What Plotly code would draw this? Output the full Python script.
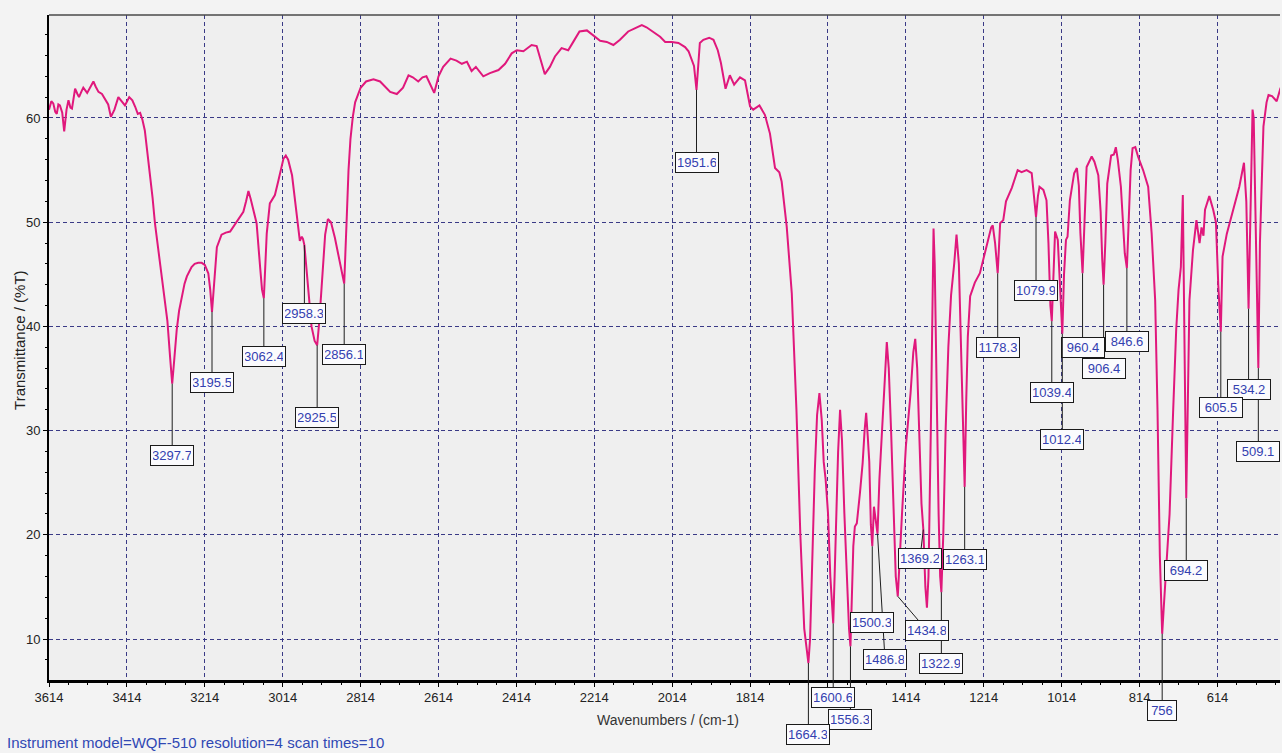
import plotly.graph_objects as go

# ---- IR spectrum (wavenumber in cm-1, transmittance in %T) ----
wavenumber = [
    3614, 3608, 3603, 3598, 3594, 3590, 3586, 3580, 3575, 3569, 3564, 3559, 3555, 3547, 3541, 3537,
    3530, 3526, 3516, 3508, 3500, 3494, 3487, 3478, 3470, 3462, 3455, 3446, 3436, 3428, 3419, 3408,
    3400, 3393, 3386, 3380, 3374, 3368, 3362, 3355, 3348, 3342, 3332, 3321, 3310, 3303, 3297.7, 3292,
    3286, 3280, 3273, 3266, 3260, 3248, 3240, 3231, 3222, 3214, 3205, 3200, 3195.5, 3190, 3183, 3171,
    3160, 3149, 3140, 3132, 3115, 3108, 3102, 3096, 3091, 3081, 3072, 3067, 3062.4, 3058, 3055, 3047,
    3040, 3034, 3025, 3018, 3012, 3006, 3000, 2990, 2980, 2970, 2965, 2962, 2958.3, 2950, 2940, 2932,
    2925.5, 2920, 2912, 2905, 2898, 2890, 2880, 2870, 2862, 2856.1, 2850, 2845, 2840, 2834, 2828, 2820,
    2814, 2800, 2781, 2764, 2750, 2738, 2721, 2705, 2691, 2680, 2666, 2655, 2645, 2636, 2625, 2614,
    2602, 2583, 2568, 2554, 2541, 2529, 2518, 2499, 2482, 2460, 2443, 2426, 2413, 2396, 2375, 2362,
    2355, 2341, 2328, 2315, 2298, 2281, 2268, 2252, 2233, 2216, 2199, 2182, 2165, 2148, 2127, 2110,
    2092, 2080, 2063, 2045, 2032, 2015, 1998, 1981, 1972, 1964, 1958, 1951.6, 1947, 1943, 1934, 1919,
    1908, 1897, 1889, 1877, 1866, 1855, 1840, 1827, 1814, 1806, 1790, 1776, 1763, 1750, 1739, 1733,
    1720, 1707, 1695, 1685, 1675, 1668, 1664.3, 1660, 1655, 1648, 1642, 1636, 1630, 1625, 1620, 1614,
    1608, 1603, 1600.6, 1597, 1593, 1588, 1583, 1578, 1572, 1566, 1560, 1556.3, 1553, 1549, 1545, 1540,
    1532, 1525, 1520, 1516, 1512, 1508, 1504, 1500.3, 1496, 1490, 1486.8, 1482, 1474, 1468, 1463, 1458,
    1452, 1446, 1440, 1434.8, 1430, 1424, 1414, 1402, 1395, 1390, 1385, 1380, 1374, 1369.2, 1364, 1360,
    1356, 1350, 1346, 1343, 1340, 1336, 1330, 1326, 1322.9, 1318, 1312, 1305, 1298, 1290, 1284, 1278,
    1272, 1266, 1263.1, 1259, 1255, 1249, 1237, 1224, 1211, 1195, 1191, 1185, 1178.3, 1172, 1164, 1157,
    1142, 1127, 1117, 1104, 1091, 1085, 1079.9, 1075, 1071, 1061, 1053, 1048, 1043, 1039.4, 1035, 1031,
    1024, 1019, 1015, 1012.4, 1008, 1003, 999, 993, 982, 975, 970, 966, 960.4, 956, 950, 937,
    930, 920, 914, 910, 906.4, 902, 897, 887, 880, 875, 870, 862, 852, 846.6, 842, 837,
    832, 825, 818, 805, 792, 783, 774, 768, 762, 758, 756, 752, 745, 737, 728, 720,
    714, 708, 703, 699, 694.2, 690, 686, 677, 668, 660, 655, 650, 646, 635, 625, 618,
    612, 605.5, 601, 590, 573, 558, 546, 540, 534.2, 530, 526, 524, 521, 517, 512, 509.1,
    505, 500, 496, 488, 483, 474, 462, 452,
]

transmittance = [
    60.8, 61.6, 61.4, 60.6, 60.4, 61.3, 61.2, 60.5, 58.7, 60.8, 61.7, 61.0, 60.9, 62.8, 62.3, 62.0,
    62.6, 62.9, 62.4, 63.0, 63.5, 63.0, 62.5, 62.3, 61.8, 61.3, 60.1, 60.8, 62.0, 61.6, 61.2, 62.0,
    61.7, 61.1, 60.4, 60.5, 59.8, 58.8, 57.0, 54.7, 52.3, 49.9, 47.0, 44.2, 40.5, 37.0, 34.5, 37.0,
    39.7, 41.5, 42.9, 44.1, 44.8, 45.7, 46.0, 46.1, 46.1, 45.9, 45.1, 43.5, 41.4, 44.5, 47.6, 48.8,
    49.0, 49.1, 49.6, 50.0, 51.0, 52.0, 53.0, 52.2, 51.5, 49.9, 45.7, 43.5, 42.7, 46.5, 48.9, 51.8,
    52.3, 52.6, 54.0, 55.2, 56.1, 56.4, 56.0, 54.5, 51.5, 48.2, 48.6, 48.4, 47.8, 44.0, 40.0, 38.6,
    38.2, 40.5, 45.5, 48.8, 50.3, 50.0, 48.5, 46.5, 45.0, 44.1, 50.0, 55.0, 58.0, 60.1, 61.5, 62.3,
    62.9, 63.5, 63.7, 63.5, 63.0, 62.5, 62.3, 62.9, 64.1, 63.9, 63.5, 63.9, 64.0, 63.3, 62.4, 64.0,
    64.9, 65.7, 65.5, 65.2, 65.4, 64.5, 64.9, 64.0, 64.3, 64.6, 65.2, 66.2, 66.5, 66.4, 67.0, 66.9,
    66.0, 64.2, 64.9, 65.9, 66.7, 66.5, 67.3, 68.3, 68.4, 67.9, 67.4, 67.3, 67.0, 67.5, 68.3, 68.6,
    68.9, 68.7, 68.3, 67.8, 67.3, 67.3, 67.2, 66.8, 66.4, 65.6, 65.0, 62.7, 65.0, 67.2, 67.5, 67.7,
    67.5, 66.5, 65.3, 62.8, 64.1, 63.2, 63.9, 63.6, 61.1, 60.8, 61.2, 60.3, 58.5, 55.2, 54.8, 53.9,
    49.6, 43.2, 32.0, 20.0, 11.0, 8.5, 7.7, 10.0, 17.0, 26.0, 31.5, 33.6, 31.0, 27.0, 25.3, 22.1,
    16.0, 12.5, 11.5, 16.0, 22.0, 28.0, 32.0, 29.0, 22.1, 16.0, 11.0, 9.3, 14.0, 18.9, 20.8, 21.1,
    24.0, 26.9, 30.0, 31.7, 29.5, 27.0, 21.0, 18.9, 22.7, 21.0, 20.1, 25.3, 31.7, 35.0, 38.5, 36.0,
    30.0, 22.0, 16.0, 14.1, 18.0, 22.0, 28.5, 33.6, 37.5, 38.8, 36.0, 30.0, 23.0, 20.5, 15.0, 13.0,
    16.0, 30.0, 42.0, 49.4, 46.0, 35.0, 22.0, 16.0, 14.5, 20.0, 30.0, 38.0, 43.0, 46.0, 48.8, 46.0,
    38.0, 28.0, 24.6, 33.0, 39.0, 42.9, 44.2, 45.1, 47.0, 49.5, 49.7, 48.0, 45.1, 49.9, 50.2, 52.0,
    53.3, 55.0, 54.8, 55.0, 54.7, 52.5, 50.5, 52.5, 53.4, 53.1, 52.1, 48.0, 42.0, 40.5, 45.0, 49.1,
    48.3, 44.0, 40.0, 39.3, 45.0, 48.3, 48.6, 52.1, 54.7, 55.2, 53.5, 49.0, 45.1, 50.0, 55.3, 56.3,
    55.8, 54.5, 51.0, 46.5, 44.0, 48.0, 53.7, 56.4, 56.5, 57.2, 56.0, 53.4, 47.0, 45.6, 50.0, 55.0,
    57.1, 57.2, 56.3, 55.0, 53.4, 48.9, 42.5, 32.0, 18.0, 12.0, 10.5, 13.0, 17.0, 22.0, 31.7, 39.7,
    43.5, 45.7, 52.6, 38.0, 23.5, 33.0, 42.5, 47.3, 50.2, 48.0, 49.5, 48.7, 51.2, 52.5, 51.2, 50.0,
    44.0, 39.5, 46.7, 48.9, 51.2, 53.4, 55.7, 52.0, 41.7, 50.0, 58.0, 60.8, 60.0, 52.0, 40.0, 36.0,
    48.0, 55.3, 59.2, 61.5, 62.2, 62.1, 61.6, 62.9,
]

# ---- labelled absorption bands ----
peak_labels = [
    "3297.7", "3195.5", "3062.4", "2958.3", "2925.5", "2856.1", "1951.6", "1664.3", "1600.6",
    "1556.3", "1500.3", "1486.8", "1434.8", "1369.2", "1322.9", "1263.1", "1178.3", "1079.9",
    "1039.4", "1012.4", "960.4", "906.4", "846.6", "756", "694.2", "605.5", "534.2", "509.1",
]

# label box centres (x in cm-1, y in %T)
label_box = {
    "3297.7": (3297.7, 27.66), "3195.5": (3195.5, 34.57), "3062.4": (3062.4, 37.11),
    "2958.3": (2958.3, 41.19), "2925.5": (2925.5, 31.26), "2856.1": (2856.1, 37.30),
    "1951.6": (1951.6, 55.73), "1664.3": (1664.3, 0.83), "1600.6": (1600.6, 4.43),
    "1556.3": (1556.3, 2.32), "1500.3": (1500.3, 11.63), "1486.8": (1467.7, 8.08),
    "1434.8": (1360.6, 10.86), "1369.2": (1377.8, 17.77), "1322.9": (1322.9, 7.70),
    "1263.1": (1263.1, 17.68), "1178.3": (1178.3, 37.93), "1079.9": (1079.9, 43.49),
    "1039.4": (1039.4, 33.61), "1012.4": (1012.4, 29.15), "960.4": (960.4, 38.02),
    "906.4": (906.4, 35.96), "846.6": (846.6, 38.55), "756": (756.0, 3.14),
    "694.2": (694.2, 16.57), "605.5": (605.5, 32.22), "534.2": (534.2, 33.90),
    "509.1": (509.1, 28.00),
}

x_ticks = [3614, 3414, 3214, 3014, 2814, 2614, 2414, 2214, 2014, 1814, 1614, 1414, 1214, 1014, 814, 614]
# the 1614 label sits under the 1600.6 band box, so it is left blank
x_tick_text = ["" if v == 1614 else str(v) for v in x_ticks]
y_ticks = [10, 20, 30, 40, 50, 60]

X_RANGE = [3614, 453.5]
Y_RANGE = [6.07, 69.88]

LINE_COLOR = "#e0187c"
GRID_COLOR = "#3a3a86"
LABEL_BLUE = "#3340b0"
FONT = "Liberation Sans Narrow, Arial Narrow, Arial, sans-serif"

fig = go.Figure()
fig.add_trace(go.Scatter(
    x=wavenumber, y=transmittance, mode="lines",
    line=dict(color=LINE_COLOR, width=2), hoverinfo="skip", showlegend=False,
))

# band labels with leader lines, drawn from low to high wavenumber
lookup = dict(zip(wavenumber, transmittance))
annotations = []
for lab in sorted(peak_labels, key=float):
    wn = float(lab)
    bx, by = label_box[lab]
    annotations.append(dict(
        x=wn, y=lookup[wn], xref="x", yref="y",
        ax=bx, ay=by, axref="x", ayref="y",
        text=lab, showarrow=True, arrowhead=0, arrowwidth=1, arrowcolor="#1e1e1e",
        standoff=0, startstandoff=0,
        font=dict(family=FONT, size=13, color=LABEL_BLUE),
        bgcolor="#fbfbfd", bordercolor="#1a1a1a", borderwidth=1, borderpad=2,
        width=38 if len(lab) > 3 else 24, height=15,
    ))

# axis titles and footer
annotations += [
    dict(text="Transmittance / (%T)", xref="paper", yref="paper",
         x=-0.0235, y=0.51, textangle=-90, showarrow=False,
         xanchor="center", yanchor="middle",
         font=dict(family="Liberation Sans, Arial, sans-serif", size=15, color="#222")),
    dict(text="Wavenumbers / (cm-1)", xref="paper", yref="paper",
         x=0.503, y=-0.06, showarrow=False, xanchor="center", yanchor="middle",
         font=dict(family=FONT, size=14, color="#333")),
    dict(text="Instrument model=WQF-510 resolution=4 scan times=10", xref="paper", yref="paper",
         x=-0.0357, y=-0.0947, showarrow=False, xanchor="left", yanchor="middle",
         font=dict(family=FONT, size=15, color="#3048b4")),
]

fig.update_layout(
    width=1282, height=753,
    margin=dict(l=49, r=2, t=15, b=73),
    paper_bgcolor="#f3f3f3", plot_bgcolor="#efefef",
    annotations=annotations,
    shapes=[dict(type="line", xref="paper", yref="paper", x0=0, x1=1, y0=1, y1=1,
                 line=dict(color="#4a4a4a", width=1.5))],
    showlegend=False,
)
fig.update_xaxes(
    range=X_RANGE, tickvals=x_ticks, ticktext=x_tick_text,
    ticks="outside", ticklen=4, tickcolor="#000", tickfont=dict(family=FONT, size=13, color="#222"),
    minor=dict(tick0=3614, dtick=50, ticks="outside", ticklen=2, tickcolor="#000", showgrid=False),
    showgrid=True, gridcolor=GRID_COLOR, gridwidth=1, griddash="4px,3px",
    showline=True, linecolor="#000", linewidth=2.5, zeroline=False,
)
fig.update_yaxes(
    range=Y_RANGE, tickvals=y_ticks, ticks="outside", ticklen=4, tickcolor="#000",
    tickfont=dict(family=FONT, size=13, color="#222"),
    minor=dict(tick0=0, dtick=2, ticks="outside", ticklen=2, tickcolor="#000", showgrid=False),
    showgrid=True, gridcolor=GRID_COLOR, gridwidth=1, griddash="4px,3px",
    showline=True, linecolor="#000", linewidth=2, zeroline=False,
)

fig.write_html("out.html")
